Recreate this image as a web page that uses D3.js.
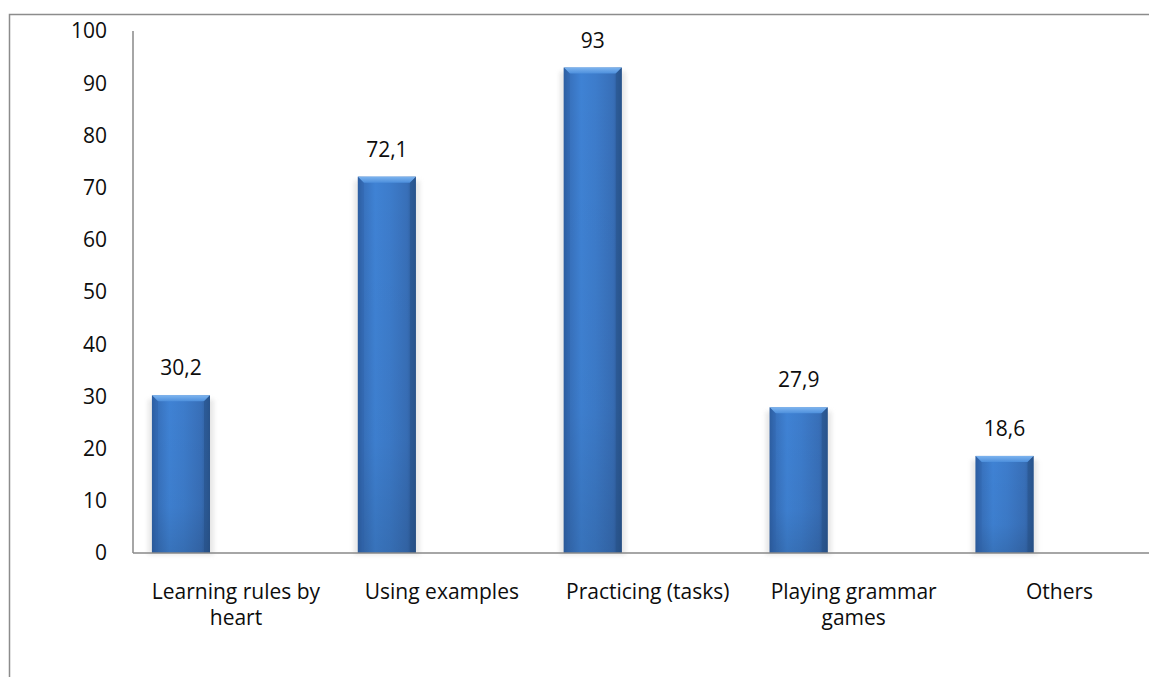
<!DOCTYPE html>
<html>
<head>
<meta charset="utf-8">
<script src="https://cdn.jsdelivr.net/npm/d3@7/dist/d3.min.js"></script>
<style>
  html, body { margin: 0; padding: 0; background: #fff; }
  svg { display: block; font-family: "Open Sans", "Noto Sans", sans-serif; }
</style>
</head>
<body>
<svg id="chart" width="1149" height="677"></svg>
<script>
// Share of answers per grammar-learning strategy (%)
const categories = [
  "Learning rules by heart",
  "Using examples",
  "Practicing (tasks)",
  "Playing grammar games",
  "Others"
];
const values = [30.2, 72.1, 93, 27.9, 18.6];
const valueLabels = ["30,2", "72,1", "93", "27,9", "18,6"];
const yTicks = [0, 10, 20, 30, 40, 50, 60, 70, 80, 90, 100];

const svg = d3.select("#chart");
const W = 1149, H = 677;
const fontSize = 21;

// plot area (extends past the right edge, as in the original frame)
const plot = { left: 133, top: 31, bottom: 553, right: 1162.5 };
const axisColor = "#898989";
const textColor = "#0d0d0d";

const x = d3.scaleBand().domain(categories).range([plot.left, plot.right]).padding(0);
const y = d3.scaleLinear().domain([0, 100]).range([plot.bottom, plot.top]);
const bw = x.bandwidth();
const barOffset = bw * 0.092;
const barW = bw * 0.282;

// outer chart frame (left and top edges visible)
svg.append("path")
  .attr("d", `M9.5,${H} V14.5 H${W}`)
  .attr("fill", "none").attr("stroke", "#8c8c8c").attr("stroke-width", 1.5);

const defs = svg.append("defs");

const hGrad = defs.append("linearGradient").attr("id", "barH")
  .attr("x1", "0").attr("x2", "1").attr("y1", "0").attr("y2", "0");
[[0, "#2c5c9c"], [0.08, "#3770bb"], [0.3, "#3f82d4"], [0.55, "#3d7ccb"],
 [0.85, "#386fb8"], [0.95, "#30609f"], [1, "#2b5791"]]
  .forEach(([o, c]) => hGrad.append("stop").attr("offset", o).attr("stop-color", c));

const vGrad = defs.append("linearGradient").attr("id", "barV")
  .attr("x1", "0").attr("x2", "0").attr("y1", "0").attr("y2", "1");
[[0, "#000", 0], [0.7, "#000", 0.03], [1, "#000", 0.12]]
  .forEach(([o, c, a]) => vGrad.append("stop").attr("offset", o)
    .attr("stop-color", c).attr("stop-opacity", a));

const bevelGrad = defs.append("linearGradient").attr("id", "bevel")
  .attr("x1", "0").attr("x2", "0").attr("y1", "0").attr("y2", "1");
[[0, "#7db4ef"], [1, "#4d8fdc"]]
  .forEach(([o, c]) => bevelGrad.append("stop").attr("offset", o).attr("stop-color", c));

defs.append("filter").attr("id", "soft")
  .attr("x", "-30%").attr("y", "-10%").attr("width", "160%").attr("height", "120%")
  .append("feGaussianBlur").attr("stdDeviation", 2);

// y-axis tick labels
svg.append("g").selectAll("text").data(yTicks).join("text")
  .attr("x", 107).attr("y", d => y(d))
  .attr("dy", "0.35em").attr("text-anchor", "end")
  .attr("font-size", fontSize).attr("fill", textColor)
  .text(d => d);

// bars
const bars = svg.append("g").selectAll("g").data(categories).join("g")
  .attr("transform", c => `translate(${x(c) + barOffset},0)`);

bars.append("rect") // soft halo
  .attr("x", -4).attr("width", barW + 8)
  .attr("y", (c, i) => y(values[i]) + 4)
  .attr("height", (c, i) => plot.bottom - y(values[i]) - 2)
  .attr("fill", "#d9d9d9").attr("opacity", 0.6).attr("filter", "url(#soft)");

bars.append("rect")
  .attr("width", barW)
  .attr("y", (c, i) => y(values[i]))
  .attr("height", (c, i) => plot.bottom - y(values[i]))
  .attr("fill", "url(#barH)");

bars.append("rect")
  .attr("width", barW)
  .attr("y", (c, i) => y(values[i]))
  .attr("height", (c, i) => plot.bottom - y(values[i]))
  .attr("fill", "url(#barV)");

// bevelled top edge
bars.append("path")
  .attr("d", (c, i) => {
    const t = y(values[i]);
    return `M0,${t} H${barW} L${barW - 6},${t + 6} H6 Z`;
  })
  .attr("fill", "url(#bevel)");
// bevelled side edges
bars.append("path")
  .attr("d", (c, i) => {
    const t = y(values[i]);
    return `M0,${t} L6,${t + 6} V${plot.bottom} H0 Z`;
  })
  .attr("fill", "#2f62a8").attr("opacity", 0.45);
bars.append("path")
  .attr("d", (c, i) => {
    const t = y(values[i]);
    return `M${barW},${t} L${barW - 6},${t + 6} V${plot.bottom} H${barW} Z`;
  })
  .attr("fill", "#264f86").attr("opacity", 0.5);

// value labels
bars.append("text")
  .attr("x", barW / 2)
  .attr("y", (c, i) => y(values[i]) - 20)
  .attr("text-anchor", "middle")
  .attr("font-size", fontSize).attr("fill", textColor)
  .text((c, i) => valueLabels[i]);

// axes lines
svg.append("line")
  .attr("x1", plot.left).attr("x2", plot.left)
  .attr("y1", plot.top).attr("y2", plot.bottom)
  .attr("stroke", axisColor).attr("stroke-width", 1.5);
svg.append("line")
  .attr("x1", plot.left).attr("x2", W)
  .attr("y1", plot.bottom).attr("y2", plot.bottom)
  .attr("stroke", axisColor).attr("stroke-width", 1.5);

// category labels, wrapped to the band width (one text element per line)
const measure = svg.append("text").attr("font-size", fontSize).attr("visibility", "hidden");
function wrap(label, maxW) {
  const words = label.split(" ");
  const lines = [];
  let line = [];
  words.forEach(w => {
    measure.text(line.concat(w).join(" "));
    if (measure.node().getComputedTextLength() > maxW && line.length) {
      lines.push(line.join(" "));
      line = [w];
    } else {
      line.push(w);
    }
  });
  lines.push(line.join(" "));
  return lines;
}

const catGroups = svg.append("g").selectAll("g").data(categories).join("g")
  .attr("transform", c => `translate(${x(c) + bw / 2},0)`);
catGroups.each(function (c) {
  const lines = wrap(c, bw - 10);
  d3.select(this).selectAll("text").data(lines).join("text")
    .attr("x", 0)
    .attr("y", (l, k) => 599 + k * 26)
    .attr("text-anchor", "middle")
    .attr("font-size", fontSize).attr("fill", textColor)
    .text(l => l);
});
measure.remove();
</script>
</body>
</html>
